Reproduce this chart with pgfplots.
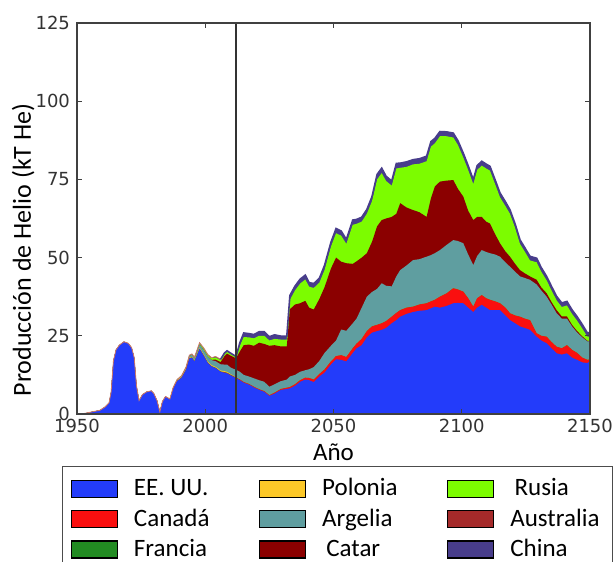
\documentclass[border=0pt]{standalone}
\usepackage{pgfplots}
\pgfplotsset{compat=1.18}
\usepackage{pgfplotstable}
\usepackage{fontspec}
\setmainfont{Carlito}
\newfontfamily\tickfont{DejaVu Sans}
\definecolor{cUSA}{RGB}{35,60,250}
\definecolor{cCAN}{RGB}{250,15,15}
\definecolor{cFRA}{RGB}{34,139,34}
\definecolor{cPOL}{RGB}{252,200,40}
\definecolor{cALG}{RGB}{95,158,160}
\definecolor{cQAT}{RGB}{139,0,0}
\definecolor{cRUS}{RGB}{124,252,0}
\definecolor{cAUS}{RGB}{165,42,42}
\definecolor{cCHN}{RGB}{72,61,139}
\definecolor{cEdge}{RGB}{205,120,105}

% cumulative boundaries: B=EE.UU., R=+Canada, F=+Francia, P=+Polonia, T=+Argelia, D=+Catar, G=+Rusia, N=+China
\pgfplotstableread{
year B R F P T D G N
1950 0 0 0 0 0 0 0 0
1953 0.2 0.2 0.2 0.2 0.2 0.2 0.2 0.2
1956 0.7 0.7 0.7 0.7 0.7 0.7 0.7 0.7
1959 1.2 1.2 1.2 1.2 1.2 1.2 1.2 1.2
1961 2.3 2.3 2.3 2.3 2.3 2.3 2.3 2.3
1962.5 3.6 3.6 3.6 3.6 3.6 3.6 3.6 3.6
1963.3 7 7 7 7 7 7 7 7
1964.2 17 17 17 17 17 17 17 17
1965.2 20.5 20.5 20.5 20.5 20.5 20.5 20.5 20.5
1966.5 22 22 22 22 22 22 22 22
1968.3 23.1 23.1 23.1 23.1 23.1 23.1 23.1 23.1
1970 22.6 22.6 22.6 22.6 22.6 22.6 22.6 22.6
1971.3 21.2 21.2 21.2 21.2 21.2 21.2 21.2 21.2
1972.3 18 18 18 18 18 18 18 18
1973.2 9 9 9 9 9 9 9 9
1974.2 4.3 4.3 4.3 4.3 4.3 4.3 4.3 4.3
1975.5 6.2 6.2 6.2 6.2 6.2 6.2 6.2 6.2
1977.2 7.1 7.1 7.1 7.1 7.1 7.1 7.1 7.1
1979 7.4 7.4 7.4 7.4 7.4 7.4 7.4 7.4
1980 6.5 6.5 6.5 6.5 6.5 6.5 6.5 6.5
1981.2 4.3 4.3 4.3 4.3 4.3 4.3 4.3 4.3
1982.3 0.7 0.7 0.7 0.7 0.7 0.7 0.7 0.7
1983.3 4 4 4 4 4 4 4 4
1984.5 5.6 5.6 5.6 5.6 5.6 5.6 5.6 5.6
1986.2 4.6 4.6 4.7 4.8 4.8 4.8 4.8 4.8
1987.5 8.1 8.1 8.2 8.4 8.5 8.5 8.5 8.5
1989 10.5 10.5 10.6 10.8 11 11 11 11
1990.8 11.6 11.6 11.7 11.9 12.2 12.2 12.3 12.3
1992.5 14.1 14.1 14.2 14.4 14.8 14.8 15 15
1993.8 17.7 17.7 17.8 18.0 18.5 18.5 18.7 18.8
1994.8 18 18 18.1 18.3 18.9 18.9 19.1 19.2
1995.8 16.8 16.8 16.9 17.1 17.8 17.8 18.1 18.2
1997.8 20.8 20.8 20.9 21.2 22.2 22.2 22.6 22.8
1999.5 18.5 18.5 18.6 18.9 20.3 20.3 20.8 21
2001 16.3 16.3 16.4 16.7 18.3 18.3 18.8 19
2002.5 15.2 15.2 15.3 15.6 17.2 17.3 17.8 18
2004 14.7 14.7 14.8 15.1 16.9 17.4 18.1 18.4
2006 13.5 13.5 13.6 13.9 15.9 16.6 17.2 17.5
2007.5 13.2 13.3 13.4 13.7 15.8 18.5 19.1 19.5
2008.5 13 13.1 13.2 13.5 15.8 19.3 19.9 20.2
2010 12.3 12.4 12.5 12.7 14.8 18.6 19.1 19.4
2012 11.5 11.6 11.7 11.8 14.1 17.8 18.2 18.4
2013.5 10.8 11.0 11.0 11.0 13.5 20.0 21.8 22.8
2015 10.0 10.2 10.2 10.2 12.5 22.0 24.6 25.9
2017 9.4 9.6 9.6 9.6 12.0 22.2 24.5 25.7
2019 8.5 8.7 8.7 8.7 11.4 21.8 24.2 25.4
2021 7.7 7.9 7.9 7.9 10.8 22.8 25.0 26.3
2023 7.1 7.3 7.3 7.3 10.3 22.4 25.0 26.3
2025 5.8 6.0 6.0 6.0 8.7 21.8 23.5 24.7
2027 6.5 6.8 6.8 6.8 9.5 22.0 24.0 25.3
2029.5 7.7 8.0 8.0 8.0 10.5 21.6 23.8 24.9
2031.8 8.0 8.4 8.4 8.4 11.0 21.6 23.8 24.9
2033 8.2 8.6 8.6 8.6 12.0 33.5 36.5 37.9
2035 9.0 9.5 9.5 9.5 12.5 35.0 39.5 40.9
2037 10.3 10.8 10.8 10.8 13.5 35.4 41.7 43.1
2039 11.0 11.6 11.6 11.6 14.0 36.2 43.0 44.4
2040.5 10.8 11.5 11.5 11.5 14.3 34.0 40.7 42.0
2042.3 10.2 11.0 11.0 11.0 15.0 33.4 40.3 41.7
2044.5 12.0 12.8 12.8 12.8 17.0 36.8 42.0 43.4
2046.5 13.2 14.2 14.2 14.2 19.5 40.5 46.0 47.5
2049 15.8 16.8 16.8 16.8 21.8 46.5 53.5 54.9
2051 17.5 18.5 18.5 18.5 23.5 50.0 57.8 59.3
2053 17.3 18.8 18.8 18.8 27.0 48.7 57.0 58.5
2055 16.8 18.2 18.2 18.2 26.6 48.2 54.4 55.8
2057.5 19.5 21.0 21.0 21.0 29.0 48.0 60.5 62.0
2059 21.0 22.5 22.5 22.5 30.5 48.8 60.8 62.2
2061 22.0 24.0 24.0 24.0 34.0 50.0 61.5 62.9
2063 24.5 26.5 26.5 26.5 37.5 51.4 64.0 65.4
2065 26.0 28.0 28.0 28.0 39.0 55.0 68.0 69.5
2067 26.5 28.5 28.5 28.5 40.0 60.0 75.0 76.6
2068.8 26.9 29.0 29.0 29.0 41.8 62.0 77.0 78.6
2070.5 27.5 29.7 29.7 29.7 41.0 62.5 74.5 76.0
2072.7 29.0 31.1 31.1 31.1 40.8 63.0 73.0 74.5
2074.5 30.0 32.3 32.3 32.3 44.0 64.0 78.5 80.1
2076 31.1 33.2 33.2 33.2 46.0 67.4 78.7 80.2
2078.5 32.0 34.0 34.0 34.0 47.5 66.0 79.0 80.6
2081 32.6 34.3 34.3 34.3 49.2 65.2 79.8 81.3
2083.5 33.0 35.0 35.0 35.0 49.5 64.5 80.0 81.6
2086.3 33.2 35.4 35.4 35.4 50.3 63.0 80.8 82.4
2088 33.8 36.0 36.0 36.0 50.8 69.0 85.5 87.1
2089.5 34.3 36.5 36.5 36.5 51.4 72.7 86.5 88.1
2091.5 34.0 37.5 37.5 37.5 52.4 74.3 88.8 90.3
2094 34.5 38.5 38.5 38.5 54.0 74.6 88.8 90.2
2096.7 35.4 40.2 40.2 40.2 55.6 74.8 88.4 89.8
2098.5 35.5 39.8 39.8 39.8 55.3 72.0 86.0 87.4
2100.6 35.4 39.1 39.1 39.1 54.6 69.5 82.0 83.4
2102.5 34.0 37.0 37.0 37.0 51.0 65.0 78.0 79.4
2104.5 32.6 34.3 34.3 34.3 47.6 62.0 73.5 74.9
2106 34.0 37.0 37.0 37.0 50.5 63.0 78.0 79.4
2107.8 34.9 38.0 38.0 38.0 52.4 63.0 79.4 80.8
2109.5 34.0 37.0 37.0 37.0 51.8 61.5 78.5 79.9
2111 33.2 36.5 36.5 36.5 51.4 60.9 77.8 79.2
2113 33.2 36.0 36.0 36.0 51.0 57.5 73.5 74.9
2114.9 33.2 35.4 35.4 35.4 50.3 54.6 69.3 70.7
2117 31.5 34.0 34.0 34.0 48.5 52.0 66.5 67.9
2118.8 30.0 32.2 32.2 32.2 47.1 50.3 64.0 65.3
2120.8 29.0 31.5 31.5 31.5 45.5 48.0 59.5 60.8
2122.7 28.0 31.1 31.1 31.1 44.0 46.0 54.4 55.7
2124.5 27.5 30.5 30.5 30.5 43.5 45.0 52.0 53.3
2126.6 26.9 30.0 30.0 30.0 42.9 44.0 49.1 50.4
2129.2 24.7 25.8 25.8 25.8 41.4 42.9 48.5 49.8
2131 23.5 25.0 25.0 25.0 39.5 40.5 45.5 46.8
2133.1 22.6 24.7 24.7 24.7 37.5 38.6 42.7 44.0
2135 21.0 23.0 23.0 23.0 35.0 35.8 39.5 40.8
2137 19.4 21.5 21.5 21.5 32.2 33.2 36.3 37.6
2139 19.0 21.0 21.0 21.0 30.5 31.2 34.2 35.5
2141 19.4 22.0 22.0 22.0 30.5 31.2 34.7 36.0
2143 18.0 20.5 20.5 20.5 28.0 28.5 32.0 33.3
2145 17.3 19.5 19.5 19.5 26.0 26.5 29.8 31.1
2147 16.5 18.0 18.0 18.0 24.5 24.8 27.3 28.6
2149 16.3 17.3 17.3 17.3 23.2 23.4 24.7 25.9
2150 16.8 17.5 17.5 17.5 23.3 23.4 24.8 26.1
}\data

\begin{document}
\begin{tikzpicture}
\begin{axis}[
  at={(0,0)}, anchor=south west,
  scale only axis, width=256.5pt, height=195.5pt,
  xmin=1950, xmax=2150, ymin=0, ymax=125,
  xtick={1950,2000,2050,2100,2150}, ytick={0,25,50,75,100,125},
  tick align=inside, major tick length=2.5pt,
  tick style={black!75, line width=0.5pt},
  axis line style={black!75, line width=0.6pt},
  /pgf/number format/assume math mode=true,
  /pgf/number format/1000 sep={},
  ticklabel style={font=\tickfont\fontsize{9}{10}\selectfont, text=black!80},
  xticklabel style={yshift=1pt},
  xlabel={Año}, ylabel={Producción de Helio (kT He)},
  xlabel style={at={(axis description cs:0.5,-0.097)}, anchor=center, font=\fontsize{12.5}{14}\selectfont},
  ylabel style={at={(axis description cs:-0.105,0.42)}, anchor=center, font=\fontsize{13}{15}\selectfont},
  legend columns=3,
  legend cell align=left,
  legend style={at={(axis description cs:0.508,-0.133)}, anchor=north,
    draw=black!70, line width=0.6pt, fill=white,
    font=\fontsize{12.5}{14}\selectfont,
    inner xsep=4pt, inner ysep=5pt,
    nodes={inner sep=1pt},
    row sep=3pt,
    /tikz/every odd column/.append style={column sep=7pt}},
  legend image code/.code={\fill[#1] (0pt,-4.25pt) rectangle (23pt,4.25pt);},
  axis on top,
]
\addplot[fill=cCHN, draw=none, forget plot] table[x=year,y=N]{\data} \closedcycle;
\addplot[fill=cRUS, draw=none, forget plot] table[x=year,y=G]{\data} \closedcycle;
\addplot[fill=cQAT, draw=none, forget plot] table[x=year,y=D]{\data} \closedcycle;
\addplot[fill=cALG, draw=none, forget plot] table[x=year,y=T]{\data} \closedcycle;
\addplot[fill=cPOL, draw=none, forget plot] table[x=year,y=P]{\data} \closedcycle;
\addplot[fill=cFRA, draw=none, forget plot] table[x=year,y=F]{\data} \closedcycle;
\addplot[fill=cCAN, draw=none, forget plot] table[x=year,y=R]{\data} \closedcycle;
\addplot[fill=cUSA, draw=none, forget plot] table[x=year,y=B]{\data} \closedcycle;
\addplot[cEdge, line width=0.4pt, forget plot, restrict x to domain=1950:2006] table[x=year,y=N]{\data};
\addplot[cCHN, line width=0.8pt, forget plot, restrict x to domain=2006:2150] table[x=year,y=N]{\data};
\addplot[black!80, line width=0.8pt, forget plot] coordinates {(2012,0) (2012,125)};

\addlegendimage{fill=cUSA}\addlegendentry{\makebox[61.5pt][l]{EE. UU.}}
\addlegendimage{fill=cPOL}\addlegendentry{\makebox[61.5pt][l]{Polonia}}
\addlegendimage{fill=cRUS}\addlegendentry{\makebox[46pt][l]{\,Rusia}}
\addlegendimage{fill=cCAN}\addlegendentry{Canadá}
\addlegendimage{fill=cALG}\addlegendentry{Argelia}
\addlegendimage{fill=cAUS}\addlegendentry{Australia}
\addlegendimage{fill=cFRA}\addlegendentry{Francia}
\addlegendimage{fill=cQAT}\addlegendentry{\,Catar}
\addlegendimage{fill=cCHN}\addlegendentry{China}
\end{axis}
\pgfresetboundingbox
\path (-38.5pt,-74pt) rectangle (269.5pt,207pt);
\end{tikzpicture}
\end{document}
